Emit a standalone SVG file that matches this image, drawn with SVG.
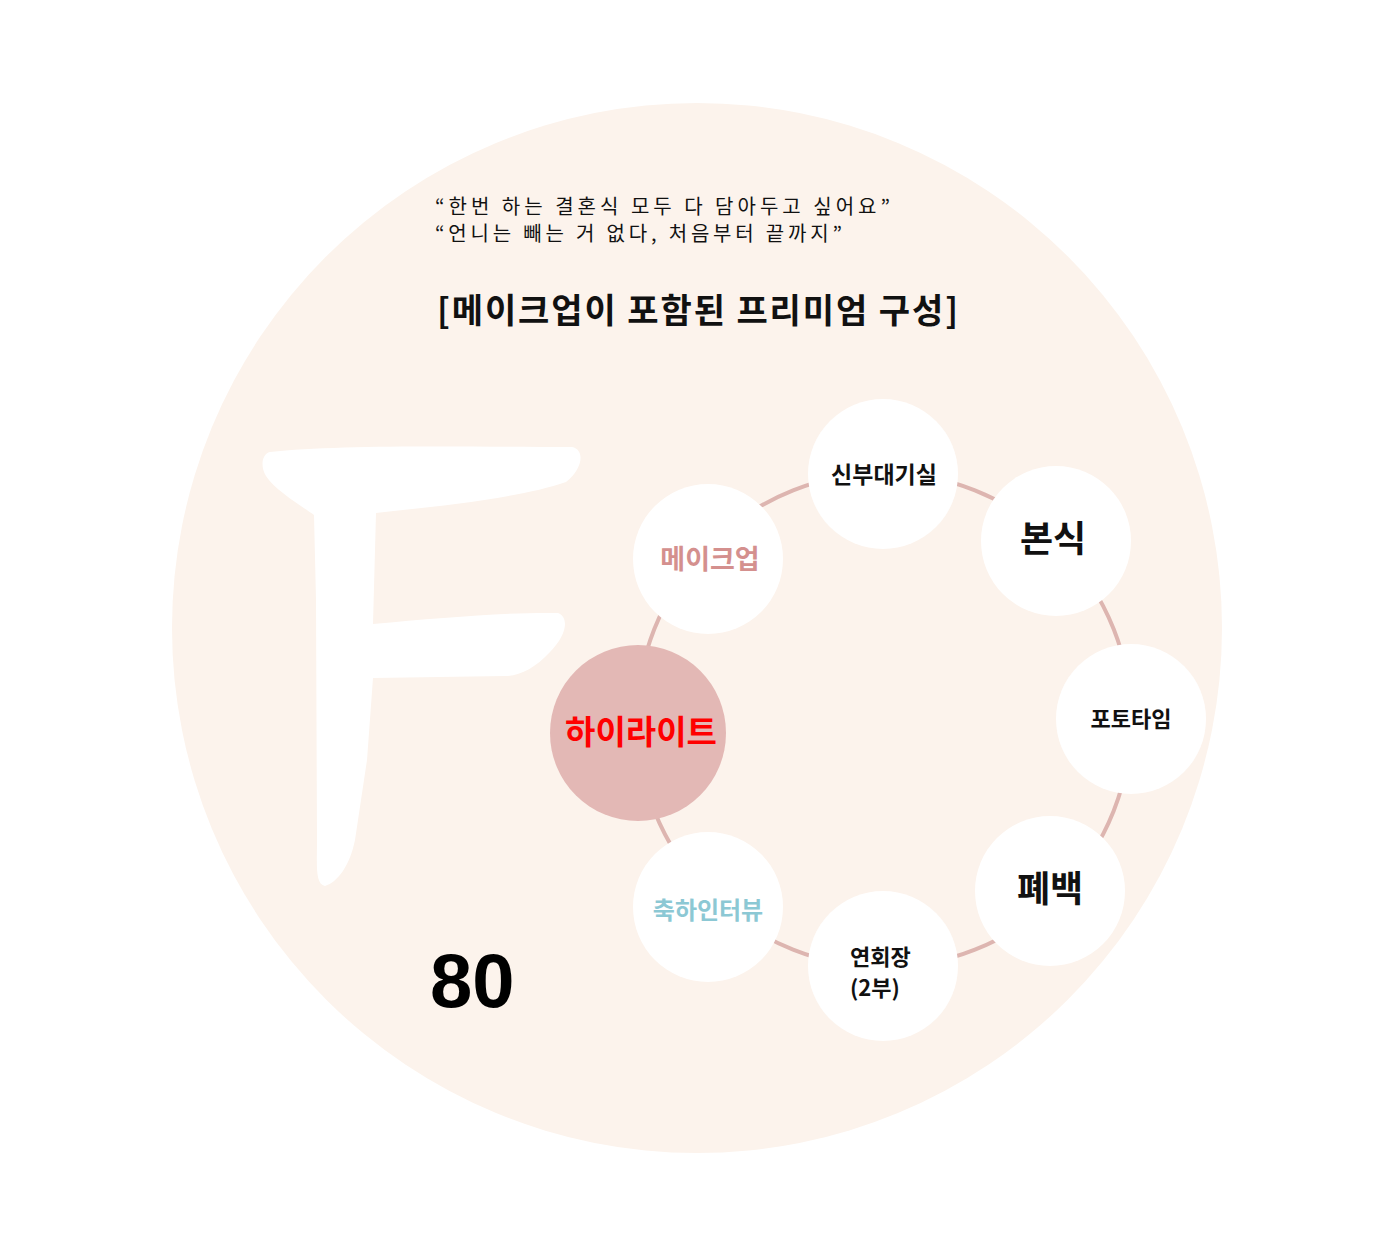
<svg xmlns="http://www.w3.org/2000/svg" width="1396" height="1257" viewBox="0 0 1396 1257">
<style>
.k{font-family:"Noto Sans CJK KR","Noto Sans",sans-serif}
.node{fill:#FFFFFF}
.lbl{text-anchor:middle;fill:#111}
</style>
<rect width="1396" height="1257" fill="#FFFFFF"/>
<circle cx="697" cy="628" r="525" fill="#FCF3EC"/>
<path d="M270,452 C340,444 480,447 572,447 C586,450 582,470 566,482 C520,498 440,506 376,513 L373,624 C440,618 510,612 558,613 C570,618 566,636 550,652 C535,668 520,676 505,676 L373,678 L367,760 L355,840 C350,865 338,882 325,886 C315,884 317,865 317,840 L316,600 L314,515 C300,505 275,490 266,476 C260,466 262,454 270,452 Z" fill="#FFFFFF"/>
<text class="k" x="435" y="214" font-size="20" fill="#111" textLength="455" lengthAdjust="spacing">“한번 하는 결혼식 모두 다 담아두고 싶어요”</text>
<text class="k" x="435" y="241" font-size="20" fill="#111" textLength="407" lengthAdjust="spacing">“언니는 빼는 거 없다, 처음부터 끝까지”</text>
<text class="k" x="437" y="323" font-size="34" font-weight="bold" fill="#111" textLength="521" lengthAdjust="spacing">[메이크업이 포함된 프리미엄 구성]</text>
<text x="430" y="1007" font-family="'Liberation Sans',sans-serif" font-size="76" font-weight="bold" fill="#000">80</text>
<g id="connectors">
<circle cx="884" cy="720" r="247" fill="none" stroke="#DDB5B0" stroke-width="4"/>
</g>
<g id="n-sinbu"><circle class="node" cx="883" cy="474" r="75"/><text class="k lbl" x="884" y="483" font-size="23" font-weight="bold">신부대기실</text></g>
<g id="n-bonsik"><circle class="node" cx="1056" cy="541" r="75"/><text class="k lbl" x="1053" y="552" font-size="36" font-weight="bold">본식</text></g>
<g id="n-makeup"><circle class="node" cx="708" cy="559" r="75"/><text class="k lbl" x="710" y="569" font-size="27" font-weight="bold" style="fill:#D4908E">메이크업</text></g>
<g id="n-photo"><circle class="node" cx="1131" cy="719" r="75"/><text class="k lbl" x="1131" y="727" font-size="22" font-weight="bold">포토타임</text></g>
<g id="n-pyebaek"><circle class="node" cx="1050" cy="891" r="75"/><text class="k lbl" x="1050" y="902" font-size="36" font-weight="bold">폐백</text></g>
<g id="n-banquet"><circle class="node" cx="883" cy="966" r="75"/><text class="k" x="850" y="965" font-size="22" font-weight="bold" fill="#111">연회장</text><text class="k" x="850" y="996" font-size="22" font-weight="bold" fill="#111">(2부)</text></g>
<g id="n-interview"><circle class="node" cx="708" cy="907" r="75"/><text class="k lbl" x="708" y="919" font-size="24" font-weight="bold" style="fill:#8CC8D4">축하인터뷰</text></g>
<g id="n-highlight"><circle cx="638" cy="733" r="88" fill="#E3B8B5"/><text class="k lbl" x="641" y="744" font-size="33" font-weight="bold" style="fill:#FF0000">하이라이트</text></g>
</svg>
